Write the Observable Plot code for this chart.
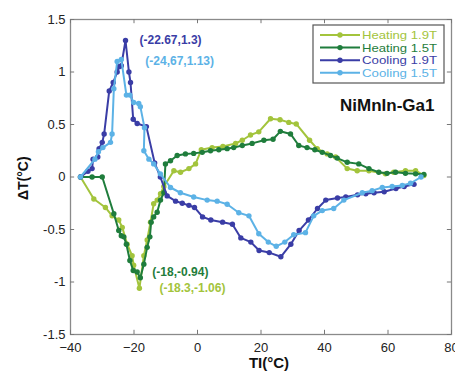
<!DOCTYPE html>
<html>
<head>
<meta charset="utf-8">
<script src="https://cdn.jsdelivr.net/npm/d3@7"></script>
<script src="https://cdn.jsdelivr.net/npm/@observablehq/plot@0.6"></script>
<style>
  html, body { margin: 0; padding: 0; background: #fff; }
  svg { font-family: "Liberation Sans", Arial, Helvetica, sans-serif; }
</style>
</head>
<body>
<div id="chart"></div>
<script>
// ---- Data ----
const seriesNames = ["Heating 1.9T", "Heating 1.5T", "Cooling 1.9T", "Cooling 1.5T"];
const seriesColors = ["#a3c43c", "#1f7d3c", "#3a3da6", "#5cb2e6"];

const heat19_x = [-36.85,-32.65,-29.0,-26.9,-24.8,-23.7,-22.15,-20.6,-20.1,-18.3,-16.9,-15.85,-14.8,-13.8,-12.7,-11.65,-10.6,-7.45,-5.35,-2.7,-0.6,1.2,4.6,8.0,12.0,14.1,16.7,19.3,23.0,26.0,28.75,31.1,35.3,37.7,40.85,43.5,47.15,50.3,54.0,59.2,61.8,65.5,68.7,71.3];
const heat19_y = [0,-0.21,-0.29,-0.37,-0.41,-0.48,-0.64,-0.75,-0.84,-1.06,-0.75,-0.60,-0.43,-0.255,-0.22,-0.16,-0.09,0.06,0.045,0.08,0.125,0.26,0.28,0.29,0.32,0.35,0.40,0.43,0.555,0.545,0.52,0.505,0.35,0.27,0.22,0.19,0.08,0.06,0.06,0.03,0.045,0.06,0.06,0.015];

const heat15_x = [-36.85,-33.2,-30.0,-26.35,-24.8,-24.0,-23.2,-22.4,-21.3,-20.25,-19.0,-18.0,-16.9,-15.85,-15.0,-14.6,-13.8,-12.7,-11.65,-10.6,-10.1,-8.5,-6.4,-3.8,-1.2,1.5,4.1,6.7,9.35,11.4,14.1,17.2,20.9,23.8,26.1,29.3,31.9,34.5,36.95,39.3,41.9,44.0,47.15,50.8,54.0,57.1,59.7,62.4,65.5,68.7,71.3];
const heat15_y = [0,0,0,-0.35,-0.51,-0.56,-0.57,-0.64,-0.795,-0.89,-0.905,-0.96,-0.83,-0.67,-0.57,-0.43,-0.38,-0.335,-0.22,-0.15,0.125,0.155,0.205,0.22,0.225,0.235,0.25,0.26,0.27,0.28,0.30,0.32,0.35,0.36,0.435,0.41,0.30,0.28,0.26,0.235,0.205,0.18,0.14,0.125,0.08,0.045,0.035,0.045,0.035,0.03,0.025];

const cool19_x = [-36.85,-34.5,-33.2,-32.9,-31.4,-31.0,-30.0,-29.4,-27.8,-26.55,-25.3,-24.7,-24.0,-22.67,-21.6,-21.1,-20.25,-19.0,-16.1,-13.5,-11.7,-9.55,-6.9,-4.8,-2.7,-0.95,1.6,4.2,7.9,11.0,13.65,16.8,19.4,22.6,26.25,29.4,32.0,34.95,37.8,40.4,44.1,46.7,50.4,53.0,55.6,58.8,62.5,65.1,68.2];
const cool19_y = [0.0,0.055,0.08,0.17,0.19,0.27,0.33,0.41,0.82,0.90,1.0,1.05,1.06,1.3,1.0,0.90,0.55,0.51,0.48,0.135,0.0,-0.18,-0.23,-0.25,-0.27,-0.29,-0.38,-0.41,-0.43,-0.45,-0.58,-0.62,-0.70,-0.72,-0.76,-0.64,-0.51,-0.41,-0.30,-0.22,-0.20,-0.19,-0.17,-0.16,-0.15,-0.14,-0.11,-0.09,-0.07];

const cool15_x = [-36.85,-32.3,-31.2,-29.8,-27.4,-26.9,-26.35,-25.3,-24.0,-22.4,-21.3,-20.1,-18.5,-18.0,-16.7,-16.9,-15.3,-13.8,-11.7,-8.5,-5.4,-1.2,3.05,6.2,9.35,13.0,16.2,19.3,22.3,24.8,27.5,30.3,34.0,36.6,39.3,42.9,46.1,51.9,55.0,58.2,61.3,64.5,67.1,70.4];
const cool15_y = [0.0,0.17,0.24,0.28,0.33,0.41,0.84,1.10,1.12,0.78,0.78,0.71,0.70,0.67,0.47,0.25,0.17,0.125,0.03,-0.10,-0.15,-0.19,-0.22,-0.23,-0.26,-0.34,-0.37,-0.54,-0.62,-0.66,-0.62,-0.55,-0.53,-0.37,-0.32,-0.30,-0.22,-0.15,-0.13,-0.10,-0.09,-0.08,-0.06,0.0];

const xTicks = [-40, -20, 0, 20, 40, 60, 80];
const yTicks = [-1.5, -1, -0.5, 0, 0.5, 1, 1.5];
const yTickLabels = ["-1.5", "-1", "-0.5", "0", "0.5", "1", "1.5"];

// Annotated extreme points
const annX = [-22.67, -24.0, -18.0, -18.3];
const annY = [1.3, 1.12, -0.96, -1.06];
const annText = ["(-22.67,1.3)", "(-24,67,1.13)", "(-18,-0.94)", "(-18.3,-1.06)"];
const annSeries = [2, 3, 1, 0];

const titleText = "NiMnIn-Ga1";
const xLabel = "TI(°C)";
const yLabel = "ΔT(°C)";

// ---- Build tables ----
const toRows = (xs, ys) => xs.map((x, i) => ({x, y: ys[i]}));
const series = [
  toRows(heat19_x, heat19_y),
  toRows(heat15_x, heat15_y),
  toRows(cool19_x, cool19_y),
  toRows(cool15_x, cool15_y)
];
const annRows = annX.map((x, i) => ({x, y: annY[i], t: annText[i], c: seriesColors[annSeries[i]]}));
const annDx = [14, 24, 12, 20];
const annDy = [0, 2, -6, 0];

const marks = [];
series.forEach((rows, i) => {
  marks.push(Plot.line(rows, {x: "x", y: "y", stroke: seriesColors[i], strokeWidth: 2}));
  marks.push(Plot.dot(rows, {x: "x", y: "y", fill: seriesColors[i], r: 2.7}));
});
annRows.forEach((d, i) => {
  marks.push(Plot.text([d], {x: "x", y: "y", text: "t", fill: d.c, textAnchor: "start",
    dx: annDx[i], dy: annDy[i], fontSize: 12, fontWeight: "bold"}));
});

const plot = Plot.plot({
  width: 455,
  height: 376,
  marginTop: 19,
  marginRight: 4,
  marginBottom: 42,
  marginLeft: 70,
  style: {fontFamily: "'Liberation Sans', Arial, sans-serif", background: "#fff"},
  x: {domain: [-40, 80]},
  y: {domain: [-1.5, 1.5]},
  marks: [
    Plot.frame({stroke: "#8a8a8a", strokeWidth: 1.3}),
    // inward ticks on all four sides
    Plot.ruleX(xTicks, {x: d => d, y1: -1.5, y2: -1.5 + 0.04, stroke: "#777"}),
    Plot.ruleX(xTicks, {x: d => d, y1: 1.5, y2: 1.5 - 0.04, stroke: "#777"}),
    Plot.ruleY(yTicks, {y: d => d, x1: -40, x2: -40 + 1.3, stroke: "#777"}),
    Plot.ruleY(yTicks, {y: d => d, x1: 80, x2: 80 - 1.3, stroke: "#777"}),
    Plot.axisX(xTicks, {tickSize: 0, tickPadding: 8, fontSize: 13, label: null, fill: "#222"}),
    Plot.axisY(yTicks, {tickSize: 0, tickPadding: 5, fontSize: 13, label: null, fill: "#222",
      tickFormat: (d) => yTickLabels[yTicks.indexOf(d)]}),
    Plot.text([xLabel], {frameAnchor: "bottom", dy: 33, dx: 8, fontSize: 15, fontWeight: "bold", fill: "#111"}),
    Plot.text([yLabel], {frameAnchor: "left", dx: -47, dy: 23, rotate: -90, fontSize: 14, fontWeight: "bold", fill: "#111"}),
    Plot.text([titleText], {frameAnchor: "top-right", dx: -17, dy: 79, textAnchor: "end", fontSize: 17, fontWeight: "bold", fill: "#111"}),
    ...marks
  ]
});

// ---- Legend (drawn inside the SVG, top-right) ----
const svg = d3.select(plot);
const lg = svg.append("g").attr("transform", "translate(313,25)").attr("text-anchor", "start");
lg.append("rect").attr("width", 131).attr("height", 58)
  .attr("fill", "#fff").attr("stroke", "#555").attr("stroke-width", 1.2);
seriesNames.forEach((name, i) => {
  const y = 10 + i * 12.6;
  const g = lg.append("g").attr("transform", `translate(0,${y})`);
  g.append("line").attr("x1", 7).attr("x2", 47).attr("y1", 0).attr("y2", 0)
    .attr("stroke", seriesColors[i]).attr("stroke-width", 2);
  g.append("circle").attr("cx", 27).attr("cy", 0).attr("r", 2.7).attr("fill", seriesColors[i]);
  g.append("text").attr("x", 49).attr("y", 0).attr("dy", "0.36em").attr("text-anchor", "start")
    .attr("font-size", 11).attr("textLength", 75).attr("lengthAdjust", "spacingAndGlyphs")
    .attr("fill", seriesColors[i]).text(name);
});

document.getElementById("chart").appendChild(plot);
</script>
</body>
</html>
